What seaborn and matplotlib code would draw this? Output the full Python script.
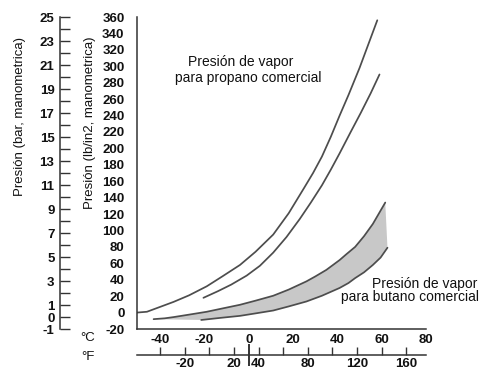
import numpy as np
import matplotlib
matplotlib.use("Agg")
import matplotlib.pyplot as plt
import seaborn as sns

# Presión de vapor manométrica (lb/in2) frente a temperatura (°C)
propano_sup_c = [-50.5, -46, -40, -34, -27, -19, -12, -4, 3, 11, 18, 25, 29, 33,
                 37, 41, 45, 50, 54, 58]
propano_sup_psi = [0, 1, 7, 13, 21, 32, 44, 58, 74, 95, 121, 152, 170, 190,
                   214, 240, 265, 298, 327, 356]

propano_inf_c = [-20.5, -14, -8, -1, 5, 11, 17, 23, 28, 33, 37, 41, 46, 50.5, 55, 59]
propano_inf_psi = [18, 26, 34, 45, 57, 73, 92, 114, 134, 155, 174, 194, 220, 243, 267, 290]

butano_sup_c = [-43, -38, -34, -27, -19, -12, -4, 3, 11, 18, 26, 30, 35, 41, 44,
                48, 52, 56, 61.6]
butano_sup_psi = [-8, -7, -5.5, -2.5, 1, 5, 9.5, 14.5, 20.5, 28, 38, 44, 52, 64, 71,
                  80, 93, 108, 134]

butano_inf_c = [-21.5, -13, -4, 3, 11, 18, 26, 33, 41, 45, 48, 52, 56, 59.5, 62.6]
butano_inf_psi = [-9, -6.5, -4, -1, 2.5, 7.5, 13.5, 20.5, 30, 36, 42, 49, 58, 67, 79]

c_ticks = list(range(-40, 81, 10))
c_labels = [str(t) if t % 20 == 0 else "" for t in c_ticks]
f_ticks = list(range(-60, 181, 20))
f_shown = [-60, -20, 20, 40, 80, 120, 160]
f_labels = [str(t) if t in f_shown else "" for t in f_ticks]
psi_ticks = list(range(-20, 361, 20))
bar_ticks = list(range(-1, 26))
bar_shown = [-1, 0] + list(range(1, 26, 2))
bar_labels = [str(t) if t in bar_shown else "" for t in bar_ticks]

sns.set_theme(style="white")
plt.rcParams["font.family"] = ["Liberation Sans", "DejaVu Sans"]

W, H = 480, 371
fig = plt.figure(figsize=(W / 100, H / 100), dpi=100)


def fpos(x, y):
    return x / W, 1 - y / H


ax = fig.add_axes([137 / W, 1 - 329 / H, 289 / W, 312 / H])

line_col = "#4d4d4d"
ax.fill(np.r_[butano_sup_c, butano_inf_c[::-1]],
        np.r_[butano_sup_psi, butano_inf_psi[::-1]],
        color="#c8c8c8", lw=0, zorder=1)
for xs, ys in [(propano_sup_c, propano_sup_psi), (propano_inf_c, propano_inf_psi),
               (butano_sup_c, butano_sup_psi), (butano_inf_c, butano_inf_psi)]:
    sns.lineplot(x=xs, y=ys, ax=ax, color=line_col, lw=1.25, sort=False,
                 estimator=None, zorder=2)

ax.set_xlim(-50.5, 80)
ax.set_ylim(-20, 360)
for s in ["top", "right"]:
    ax.spines[s].set_visible(False)
for s in ["left", "bottom"]:
    ax.spines[s].set_color("#333333")
    ax.spines[s].set_linewidth(1.1)

tick_font = dict(labelsize=9.5, labelcolor="#111111", color="#333333", width=1)
ax.set_yticks(psi_ticks)
ax.set_yticklabels([str(t) for t in psi_ticks], fontweight="bold")
ax.tick_params(axis="y", direction="in", length=6, pad=9, **tick_font)
ax.set_xticks(c_ticks)
ax.set_xticklabels(c_labels, fontweight="bold")
ax.tick_params(axis="x", direction="in", length=6, pad=3.5, **tick_font)
ax.set_xlabel("")
ax.set_ylabel("")

# Escala en °F
sec_f = ax.secondary_xaxis(-26 / 312, functions=(lambda c: c * 1.8 + 32,
                                                  lambda f: (f - 32) / 1.8))
sec_f.set_xticks(f_ticks)
sec_f.set_xticklabels(f_labels, fontweight="bold")
sec_f.set_xticks([32], minor=True)
sec_f.tick_params(axis="x", which="major", direction="in", length=6, pad=2.5, **tick_font)
sec_f.tick_params(axis="x", which="minor", direction="inout", length=16, width=1.4,
                  color="#333333")
sec_f.spines["bottom"].set_color("#333333")
sec_f.spines["bottom"].set_linewidth(1.1)

# Escala en bar
sec_b = ax.secondary_yaxis(-77 / 289, functions=(lambda p: -1 + (p + 20) * 26 / 380,
                                                  lambda b: (b + 1) * 380 / 26 - 20))
sec_b.set_yticks(bar_ticks)
sec_b.set_yticklabels(bar_labels, fontweight="bold")
sec_b.tick_params(axis="y", direction="in", length=7, pad=4, **tick_font)
sec_b.spines["left"].set_color("#333333")
sec_b.spines["left"].set_linewidth(1.1)

txt = dict(fontsize=9.5, color="#111111")
fig.text(*fpos(20, 116), "Presión (bar, manometrica)", rotation=90,
         ha="center", va="center", **txt)
fig.text(*fpos(90, 123), "Presión (lb/in2, manometrica)", rotation=90,
         ha="center", va="center", **txt)
fig.text(*fpos(88, 338), "°C", ha="center", va="center", **txt)
fig.text(*fpos(88, 357), "°F", ha="center", va="center", **txt)

ann = dict(fontsize=10, color="#111111", va="center")
fig.text(*fpos(188, 62), "Presión de vapor", ha="left", **ann)
fig.text(*fpos(175, 78), "para propano comercial", ha="left", **ann)
fig.text(*fpos(477, 284), "Presión de vapor", ha="right", **ann)
fig.text(*fpos(479, 297), "para butano comercial", ha="right", **ann)

fig.savefig("out.png", dpi=100)
